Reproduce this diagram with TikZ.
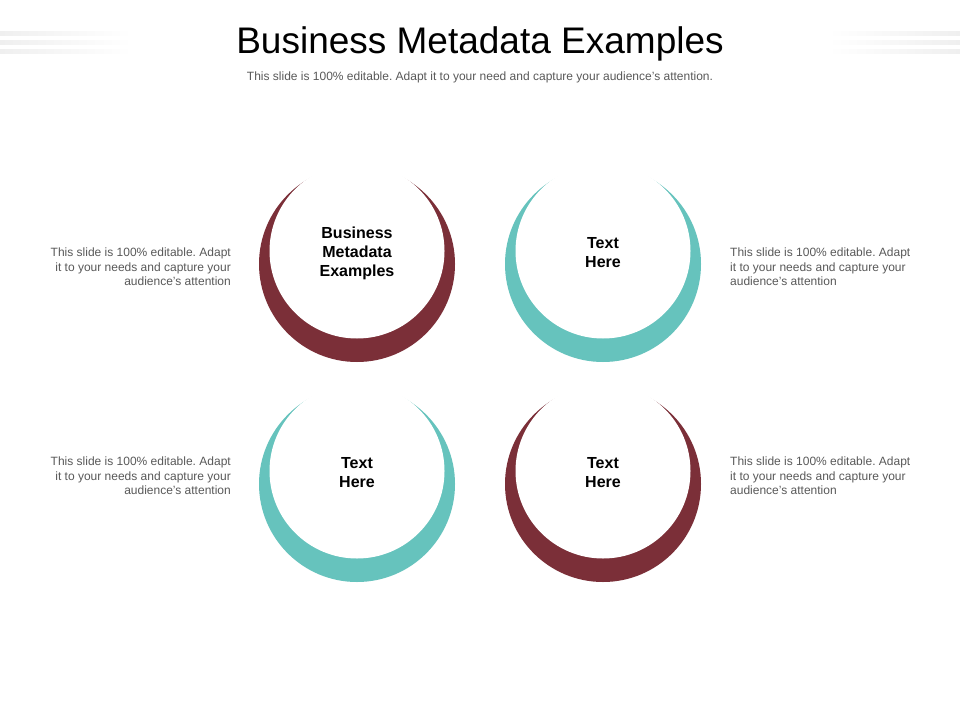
\documentclass[tikz,border=0pt]{standalone}
\usepackage{fontspec}
\setmainfont{Liberation Sans}
\frenchspacing
\definecolor{maroon}{HTML}{7B2F38}
\definecolor{teal}{HTML}{66C3BD}
\definecolor{txtgray}{HTML}{595959}
\definecolor{stripe}{HTML}{EFEFEF}
\begin{document}
\begin{tikzpicture}[x=1pt,y=-1pt,
  outerring/.style={circle,minimum size=196pt,inner sep=0pt,draw=none},
  innerdisk/.style={circle,fill=white,minimum size=175pt,inner sep=0pt,align=center,font=\fontsize{16}{19}\selectfont\bfseries},
  sidetext/.style={inner sep=0pt,text=txtgray,font=\fontsize{12}{14.5}\selectfont}]
\useasboundingbox (0,0) rectangle (960,720);
\fill[white] (0,0) rectangle (960,720);
% decorative stripes
\foreach \yy in {33,42,51}{
  \shade[left color=stripe,right color=white] (0,\yy-2) rectangle (132,\yy+2);
  \shade[left color=white,right color=stripe] (828,\yy-2) rectangle (960,\yy+2);
}
% title
\node[anchor=base,inner sep=0pt,font=\fontsize{37}{40}\selectfont] (title) at (480,53) {Business Metadata Examples};
\node[anchor=base,inner sep=0pt,text=txtgray,font=\fontsize{12}{14}\selectfont] (subtitle) at (480,80) {This slide is 100\% editable. Adapt it to your need and capture your audience’s attention.};
% rings
\node[outerring,fill=maroon] (o1) at (357,264) {};
\node[innerdisk] (c1) at (357,251) {};
\node[align=center,inner sep=0pt,font=\fontsize{16}{19}\selectfont\bfseries] (l1) at (c1.center) [yshift=-2pt] {Business\\Metadata\\Examples};
\node[outerring,fill=teal] (o2) at (603,264) {};
\node[innerdisk] (c2) at (603,251) {};
\node[align=center,inner sep=0pt,font=\fontsize{16}{19}\selectfont\bfseries] (l2) at (c2.center) [yshift=-2pt] {Text\\Here};
\node[outerring,fill=teal] (o3) at (357,484) {};
\node[innerdisk] (c3) at (357,471) {};
\node[align=center,inner sep=0pt,font=\fontsize{16}{19}\selectfont\bfseries] (l3) at (c3.center) [yshift=-2pt] {Text\\Here};
\node[outerring,fill=maroon] (o4) at (603,484) {};
\node[innerdisk] (c4) at (603,471) {};
\node[align=center,inner sep=0pt,font=\fontsize{16}{19}\selectfont\bfseries] (l4) at (c4.center) [yshift=-2pt] {Text\\Here};
% side texts
\node[sidetext,anchor=east,align=right] (t1) at (231,267) {This slide is 100\% editable. Adapt\\it to your needs and capture your\\audience's attention};
\node[sidetext,anchor=west,align=left] (t2) at (730,267) {This slide is 100\% editable. Adapt\\it to your needs and capture your\\audience's attention};
\node[sidetext,anchor=east,align=right] (t3) at (231,476) {This slide is 100\% editable. Adapt\\it to your needs and capture your\\audience's attention};
\node[sidetext,anchor=west,align=left] (t4) at (730,476) {This slide is 100\% editable. Adapt\\it to your needs and capture your\\audience's attention};
\end{tikzpicture}
\end{document}
